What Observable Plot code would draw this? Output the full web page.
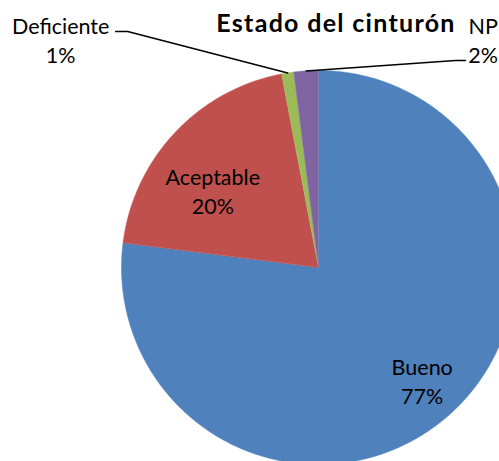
<!DOCTYPE html>
<html><head><meta charset="utf-8">
<script src="https://cdn.jsdelivr.net/npm/d3@7"></script>
<script src="https://cdn.jsdelivr.net/npm/@observablehq/plot@0.6"></script>
<style>
body{margin:0;background:#fff;overflow:hidden}
#wrap{position:relative;width:499px;height:461px;overflow:hidden}
#title{position:absolute;left:172px;width:328px;top:10px;text-align:center;font-family:Lato,sans-serif;font-weight:bold;font-size:25px;letter-spacing:1.3px;line-height:1;color:#000;white-space:nowrap;z-index:2}
#chart{position:absolute;left:0;top:0}
</style>
</head><body>
<div id="wrap"><div id="chart"></div><div id="title">Estado del cinturón</div></div>
<script>
const categories = ["Bueno", "Aceptable", "Deficiente", "NP"];
const values = [77, 20, 1, 2];
const percentLabels = ["77%", "20%", "1%", "2%"];
const colors = ["#4F81BD", "#C0504D", "#9BBB59", "#8064A2"];

const R = 197, CX = 318, CY = 267;

const arcs = d3.pie().sort(null).value(d => d.value)(
  categories.map((c, i) => ({name: c, value: values[i], color: colors[i], pct: percentLabels[i]}))
);

// slice outlines in unit coordinates (y up)
const slicePts = [];
for (const a of arcs) {
  const n = Math.max(2, Math.ceil((a.endAngle - a.startAngle) / (Math.PI / 360)));
  slicePts.push({name: a.data.name, color: a.data.color, x: 0, y: 0});
  for (let k = 0; k <= n; k++) {
    const t = a.startAngle + (a.endAngle - a.startAngle) * k / n;
    slicePts.push({name: a.data.name, color: a.data.color, x: Math.sin(t), y: Math.cos(t)});
  }
}

function midPoint(a, r) {
  const t = (a.startAngle + a.endAngle) / 2;
  return {x: r * Math.sin(t), y: r * Math.cos(t)};
}

const byName = Object.fromEntries(arcs.map(a => [a.data.name, a]));

// label placement: radius fraction + pixel nudges (layout only)
const labelLayout = {
  "Bueno":      {r: 0.75, dx: 6,    dy: 2},
  "Aceptable":  {r: 0.75, dx: 2,    dy: 24},
  "Deficiente": {r: 1.0,  dx: -227, dy: -34, leader: [[-160, -41.4], [-172, -41.4]]},
  "NP":         {r: 1.0,  dx: 177,  dy: -32, leader: [[149.4, -10.4], [159.4, -10.4]]}
};

const textMarks = categories.map(name => {
  const a = byName[name];
  const L = labelLayout[name];
  const p = midPoint(a, L.r);
  return Plot.text([{...p, label: name + "\n" + a.data.pct}], {
    x: "x", y: "y", text: "label", fontSize: 21.5, lineHeight: 1.36,
    fill: "#000", dx: L.dx, dy: L.dy, textAnchor: "middle", lineAnchor: "middle"
  });
});

const leaderPts = [];
for (const name of categories) {
  const L = labelLayout[name];
  if (!L.leader) continue;
  const p = midPoint(byName[name], 1);
  leaderPts.push({name, x: p.x, y: p.y});
  for (const [ox, oy] of L.leader) leaderPts.push({name, x: p.x + ox / R, y: p.y - oy / R});
}

const chart = Plot.plot({
  width: 499, height: 461, margin: 0,
  style: {fontFamily: "Lato, sans-serif", background: "transparent"},
  x: {domain: [-1, 1], range: [CX - R, CX + R], axis: null},
  y: {domain: [-1, 1], range: [CY + R, CY - R], axis: null},
  color: {type: "identity"},
  marks: [
    Plot.line(slicePts, {x: "x", y: "y", z: "name", fill: "color", stroke: "color", strokeWidth: 0.5, curve: "linear"}),
    Plot.line(leaderPts, {x: "x", y: "y", z: "name", stroke: "#000", strokeWidth: 1.5, curve: "linear"}),
    ...textMarks
  ]
});
document.getElementById("chart").append(chart);
</script>
</body></html>
